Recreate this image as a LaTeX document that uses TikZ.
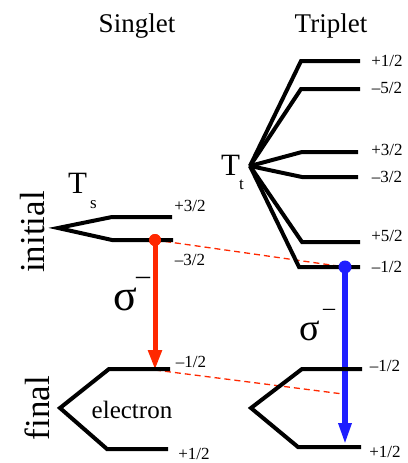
\documentclass[tikz,border=0pt]{standalone}
\usepackage{fontspec}
\setmainfont{Liberation Serif}
\usetikzlibrary{arrows.meta}
\definecolor{myred}{RGB}{255,40,0}
\definecolor{myblue}{RGB}{30,30,255}
\begin{document}
\begin{tikzpicture}[x=1pt,y=-1pt,
  lvl/.style={line width=4pt,line join=miter},
  lbl/.style={font=\fontsize{17}{17}\selectfont,inner sep=0},
  ttl/.style={font=\fontsize{27}{27}\selectfont,inner sep=0,anchor=base},
  side/.style={font=\fontsize{35}{35}\selectfont,inner sep=0,rotate=90},
  bigT/.style={font=\fontsize{31}{31}\selectfont,inner sep=0,anchor=base west},
  subs/.style={font=\fontsize{17}{17}\selectfont,inner sep=0,anchor=base west},
  dashln/.style={myred,line width=1.3pt,dash pattern=on 6pt off 4pt},
  dot/.style={circle,inner sep=0,minimum size=12pt},
  sig/.style={inner sep=0,anchor=base west}]
\useasboundingbox (0,0) rectangle (407,463);

% titles
\node[ttl] (singlet) at (137,32) {Singlet};
\node[ttl] (triplet) at (331,32) {Triplet};
\node[side] (initial) at (33,232) {initial};
\node[side] (final) at (37,408) {final};

% coordinates: singlet initial
\coordinate (sv) at (58,228);
\coordinate (sa1) at (112,217); \coordinate (sa2) at (172,217);
\coordinate (sb1) at (112,240); \coordinate (sb2) at (173,240);
% triplet initial
\coordinate (tv) at (250,166);
\coordinate (t11) at (301,61);  \coordinate (t12) at (360,61);
\coordinate (t21) at (301,89);  \coordinate (t22) at (360,89);
\coordinate (t31) at (302,152); \coordinate (t32) at (358,152);
\coordinate (t41) at (302,177); \coordinate (t42) at (358,177);
\coordinate (t51) at (302,242); \coordinate (t52) at (360,242);
\coordinate (t61) at (299,267); \coordinate (t62) at (360,267);
% singlet final
\coordinate (fv) at (60,408);
\coordinate (fa1) at (109,369); \coordinate (fa2) at (170,369);
\coordinate (fb1) at (107,449); \coordinate (fb2) at (168,449);
% triplet final
\coordinate (gv) at (251,408);
\coordinate (ga1) at (302,369); \coordinate (ga2) at (362,369);
\coordinate (gb1) at (298,447); \coordinate (gb2) at (361,447);

% dots and arrow ends
\coordinate (rtip) at (155,370);
\coordinate (btip) at (345,445);
\coordinate (bmid) at (343,394);
\node[dot,fill=myred] (rdot) at (155,240) {};
\node[dot,fill=myblue] (bdot) at (345,267) {};

% arrows
\draw[myred,line width=5pt,-{Triangle[length=20pt,width=13pt]}] (rdot.center) -- (rtip);
\draw[myblue,line width=5.5pt,-{Triangle[length=22pt,width=12pt]}] (bdot.center) -- (btip);

% dashed
\draw[dashln] (rdot.center) -- (bdot.center);
\draw[dashln] (rtip) -- (bmid);

% levels
\draw[lvl] (sa2) -- (sa1) -- (sv) -- (sb1) -- (sb2);
\draw[lvl] (t12) -- (t11) -- (tv);
\draw[lvl] (t22) -- (t21) -- (tv);
\draw[lvl] (t32) -- (t31) -- (tv);
\draw[lvl] (t42) -- (t41) -- (tv);
\draw[lvl] (t52) -- (t51) -- (tv);
\draw[lvl] (t62) -- (t61) -- (tv);
\draw[lvl] (fa2) -- (fa1) -- (fv) -- (fb1) -- (fb2);
\draw[lvl] (ga2) -- (ga1) -- (gv) -- (gb1) -- (gb2);

% dots on top
\fill[myred] (rdot) circle (6pt);
\fill[myblue] (bdot) circle (6.5pt);

% T labels
\node[bigT] (Ts) at (68,193) {T};
\node[subs] (Tss) at (90,208) {s};
\node[bigT] (Tt) at (221,175) {T};
\node[subs] (Tts) at (239,189) {t};

% level labels
\node[lbl] (l1) at (387,61) {+1/2};
\node[lbl] (l2) at (387,88) {–5/2};
\node[lbl] (l3) at (387,150) {+3/2};
\node[lbl] (l4) at (387,177) {–3/2};
\node[lbl] (l5) at (387,236) {+5/2};
\node[lbl] (l6) at (387,267) {–1/2};
\node[lbl] (s1) at (190,206) {+3/2};
\node[lbl] (s2) at (190,260) {–3/2};
\node[lbl] (f1) at (191,362) {–1/2};
\node[lbl] (f2) at (194,454) {+1/2};
\node[lbl] (g1) at (385,366) {–1/2};
\node[lbl] (g2) at (385,452) {+1/2};

\node[font=\fontsize{25}{25}\selectfont,inner sep=0] (el) at (132,410) {electron};

% sigma labels
\node[sig,font=\fontsize{44}{44}\selectfont] (rs) at (113,310) {σ};
\node[inner sep=0,font=\fontsize{28}{28}\selectfont] (rsm) at (143,281) {–};
\node[sig,font=\fontsize{38}{38}\selectfont] (bs) at (299,340) {σ};
\node[inner sep=0,font=\fontsize{24}{24}\selectfont] (bsm) at (329,312) {–};
\end{tikzpicture}
\end{document}
